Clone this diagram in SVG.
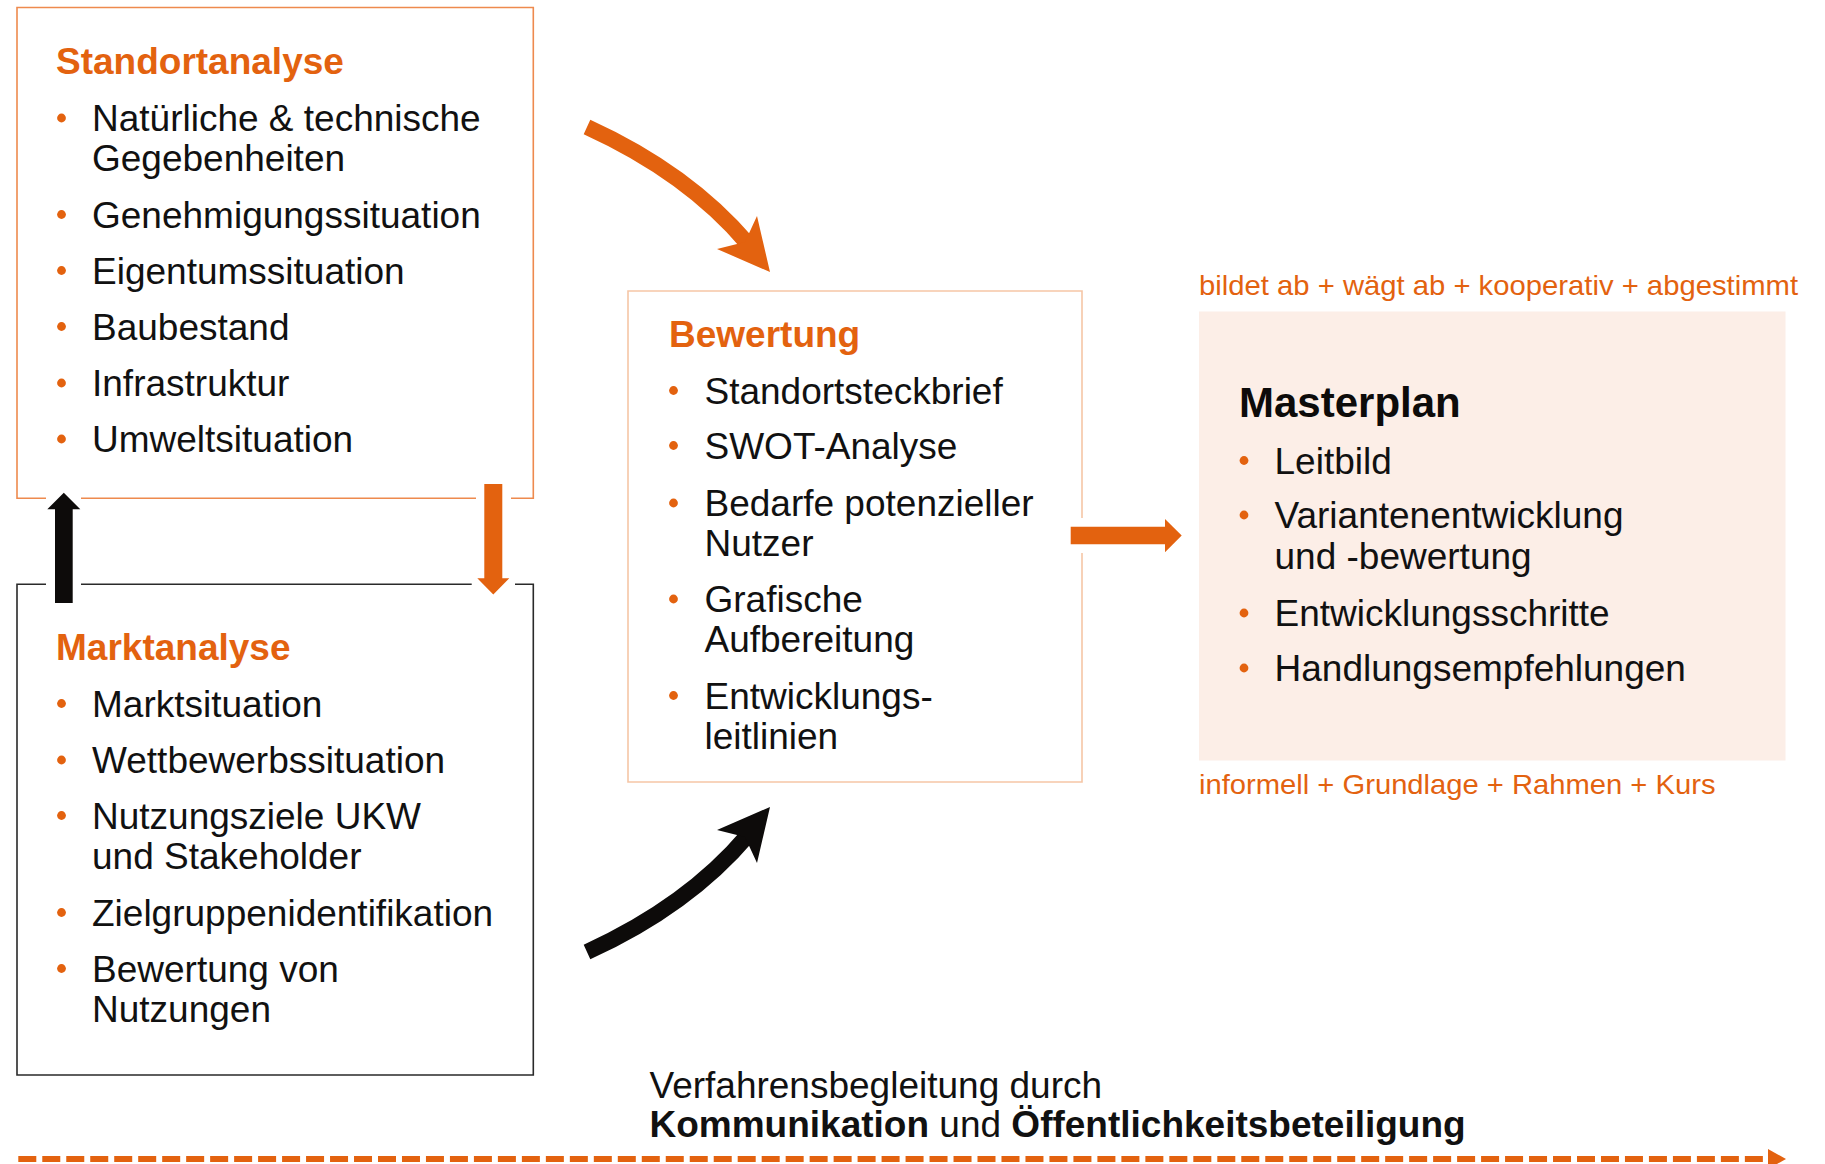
<svg xmlns="http://www.w3.org/2000/svg" width="1825" height="1164" viewBox="0 0 1825 1164">
<style>
text{font-family:"Liberation Sans",Arial,Helvetica,sans-serif;}
.b{font-size:37px;fill:#111111;}
.h{font-size:37px;font-weight:bold;fill:#E3620F;}
.s{font-size:28px;fill:#E3620F;}
.dot{fill:#E3620F;}
.or{fill:#E3620F;}
.bk{fill:#0D0B0A;}
</style>
<rect width="1825" height="1164" fill="#FFFFFF"/>

<g id="standortanalyse">
<path d="M46,498.3 H17 V7.5 H533.3 V498.3 H511 M476,498.3 H81" fill="none" stroke="#EE8A4E" stroke-width="1.6"/>
<text class="h" x="56" y="74">Standortanalyse</text>
<circle class="dot" cx="61.5" cy="118" r="4.4"/>
<text class="b" x="92" y="131">Natürliche &amp; technische</text>
<text class="b" x="92" y="171">Gegebenheiten</text>
<circle class="dot" cx="61.5" cy="214.5" r="4.4"/>
<text class="b" x="92" y="227.5">Genehmigungssituation</text>
<circle class="dot" cx="61.5" cy="270.5" r="4.4"/>
<text class="b" x="92" y="283.5">Eigentumssituation</text>
<circle class="dot" cx="61.5" cy="326.5" r="4.4"/>
<text class="b" x="92" y="339.5">Baubestand</text>
<circle class="dot" cx="61.5" cy="383" r="4.4"/>
<text class="b" x="92" y="396">Infrastruktur</text>
<circle class="dot" cx="61.5" cy="439" r="4.4"/>
<text class="b" x="92" y="452">Umweltsituation</text>
</g>

<g id="marktanalyse">
<path d="M46,584.3 H17 V1075 H533.3 V584.3 H515 M471.7,584.3 H81" fill="none" stroke="#2A2A2A" stroke-width="1.6"/>
<text class="h" x="56" y="660">Marktanalyse</text>
<circle class="dot" cx="61.5" cy="703.5" r="4.4"/>
<text class="b" x="92" y="716.5">Marktsituation</text>
<circle class="dot" cx="61.5" cy="760" r="4.4"/>
<text class="b" x="92" y="773">Wettbewerbssituation</text>
<circle class="dot" cx="61.5" cy="815.5" r="4.4"/>
<text class="b" x="92" y="828.5">Nutzungsziele UKW</text>
<text class="b" x="92" y="869">und Stakeholder</text>
<circle class="dot" cx="61.5" cy="912.5" r="4.4"/>
<text class="b" x="92" y="925.5">Zielgruppenidentifikation</text>
<circle class="dot" cx="61.5" cy="968.5" r="4.4"/>
<text class="b" x="92" y="981.5">Bewertung von</text>
<text class="b" x="92" y="1022">Nutzungen</text>
</g>

<g id="bewertung">
<path d="M1082,518 V291 H628 V782 H1082 V553" fill="none" stroke="#F6C6A6" stroke-width="1.6"/>
<text class="h" x="669" y="347">Bewertung</text>
<circle class="dot" cx="673.5" cy="390.5" r="4.4"/>
<text class="b" x="704.5" y="403.5">Standortsteckbrief</text>
<circle class="dot" cx="673.5" cy="445.5" r="4.4"/>
<text class="b" x="704.5" y="458.5">SWOT-Analyse</text>
<circle class="dot" cx="673.5" cy="503" r="4.4"/>
<text class="b" x="704.5" y="516">Bedarfe potenzieller</text>
<text class="b" x="704.5" y="556">Nutzer</text>
<circle class="dot" cx="673.5" cy="599" r="4.4"/>
<text class="b" x="704.5" y="612">Grafische</text>
<text class="b" x="704.5" y="652">Aufbereitung</text>
<circle class="dot" cx="673.5" cy="695.5" r="4.4"/>
<text class="b" x="704.5" y="708.5">Entwicklungs-</text>
<text class="b" x="704.5" y="748.5">leitlinien</text>
</g>

<g id="masterplan">
<text class="s" x="1199" y="294.5" textLength="599" lengthAdjust="spacingAndGlyphs">bildet ab + wägt ab + kooperativ + abgestimmt</text>
<rect x="1199" y="311.5" width="586.5" height="449" fill="#FCEEE7"/>
<text x="1239" y="417" style="font-size:42px;font-weight:bold;fill:#0D0B0A">Masterplan</text>
<circle class="dot" cx="1244" cy="460.5" r="4.4"/>
<text class="b" x="1274.5" y="473.5">Leitbild</text>
<circle class="dot" cx="1244" cy="515" r="4.4"/>
<text class="b" x="1274.5" y="528">Variantenentwicklung</text>
<text class="b" x="1274.5" y="569">und -bewertung</text>
<circle class="dot" cx="1244" cy="613" r="4.4"/>
<text class="b" x="1274.5" y="626">Entwicklungsschritte</text>
<circle class="dot" cx="1244" cy="668" r="4.4"/>
<text class="b" x="1274.5" y="681">Handlungsempfehlungen</text>
<text class="s" x="1199" y="794" textLength="516.5" lengthAdjust="spacingAndGlyphs">informell + Grundlage + Rahmen + Kurs</text>
</g>

<g id="verfahrensbegleitung">
<text class="b" x="649.5" y="1098">Verfahrensbegleitung durch</text>
<text class="b" x="649.5" y="1136.5"><tspan font-weight="bold">Kommunikation</tspan> und <tspan font-weight="bold">Öffentlichkeitsbeteiligung</tspan></text>
</g>

<g id="connectors">
<path d="M587,127 Q688,173 748,244" fill="none" stroke="#E3620F" stroke-width="16"/>
<polygon class="or" points="770,272 717,249 745,242 757,216"/>
<path d="M587,952 Q688,906 748,835" fill="none" stroke="#0D0B0A" stroke-width="16"/>
<polygon class="bk" points="770,807 717,830 745,837 757,863"/>
<polygon class="bk" points="55,603 55,509.3 47.3,509.3 63.8,492.7 80.3,509.3 72.7,509.3 72.7,603"/>
<polygon class="or" points="484.3,484 502.3,484 502.3,578.3 509.3,578.3 493.3,594.5 477.3,578.3 484.3,578.3"/>
<polygon class="or" points="1070.7,526.7 1165,526.7 1165,519 1181.7,535.5 1165,552.3 1165,544.3 1070.7,544.3"/>
<line x1="18.3" y1="1159" x2="1763" y2="1159" stroke="#E3620F" stroke-width="6" stroke-dasharray="18 5.98"/>
<polygon class="or" points="1768,1149 1786,1159 1768,1169"/>
</g>
</svg>
